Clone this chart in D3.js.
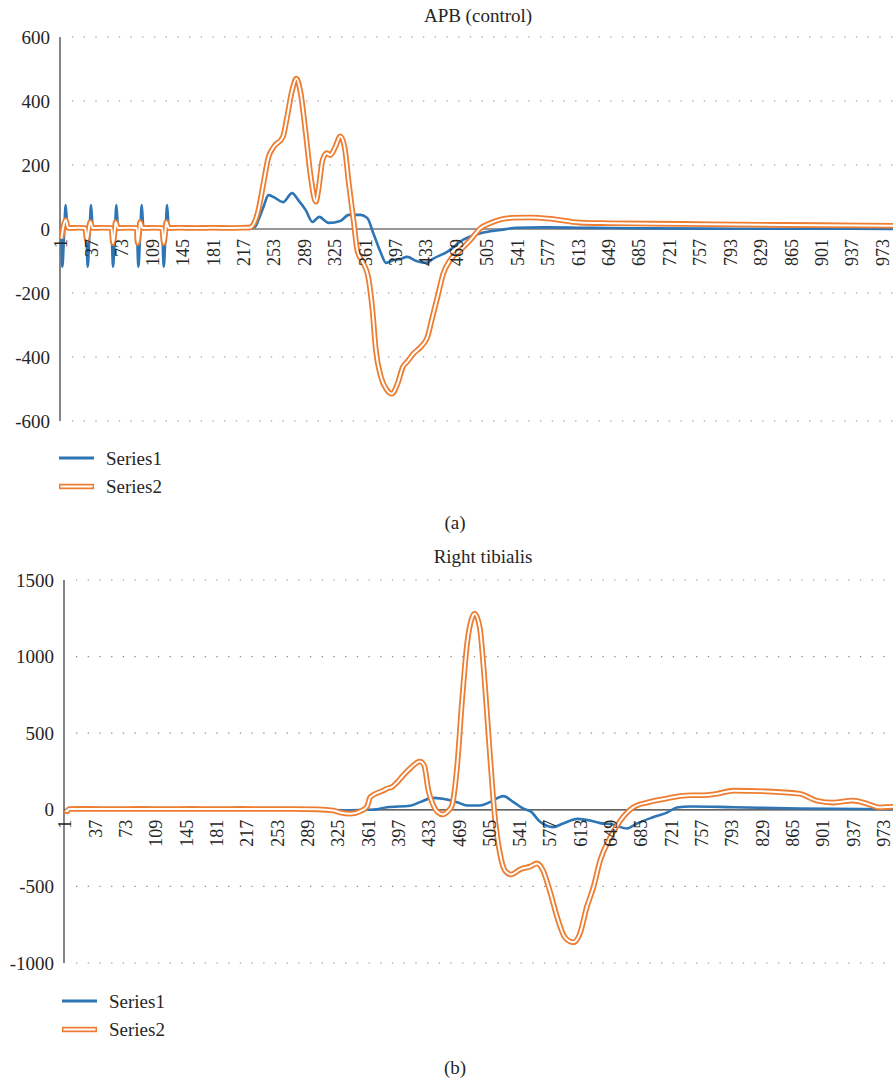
<!DOCTYPE html>
<html>
<head>
<meta charset="utf-8">
<script src="https://cdn.jsdelivr.net/npm/d3@7"></script>
<style>
  html, body { margin: 0; padding: 0; background: #fff; }
  svg { display: block; }
</style>
</head>
<body>
<div id="chart"></div>
<script>
// ---------------- DATA ----------------
const xTickLabels = [1,37,73,109,145,181,217,253,289,325,361,397,433,469,505,541,577,613,649,685,721,757,793,829,865,901,937,973];
const yTicksA = [-600,-400,-200,0,200,400,600];
const yTicksB = [-1000,-500,0,500,1000,1500];
const seriesNames = ["Series1", "Series2"];
const titleA = "APB (control)";
const titleB = "Right tibialis";

// Chart (a) Series1 (blue): [category, value]
const a_s1 = [
  [1,0],[2,-118],[4,-20],[6,75],[8,0],[12,3],[20,2],[28,3],[30,0],
  [32,-118],[34,-20],[36,75],[38,0],[44,4],[52,2],[60,0],
  [62,-118],[64,-20],[66,75],[68,0],[74,3],[82,2],[90,0],
  [92,-118],[94,-20],[96,75],[98,0],[104,4],[112,2],[120,0],
  [122,-118],[124,-20],[126,75],[128,0],[134,3],[145,1],[160,2],[180,1],[200,2],[220,1],
  [226,2],[231,10],[234,28],[240,69],[246,106],[252,100],[263,84],[274,112],[281,91],
  [290,59],[298,22],[306,38],[317,19],[331,25],[341,44],[355,44],[363,34],[370,-13],
  [379,-75],[385,-106],[394,-97],[402,-94],[410,-87],[421,-100],[433,-106],[440,-94],
  [457,-72],[476,-34],[497,-13],[521,-3],[540,4],[570,5],[610,4],[650,3],[700,2],
  [800,1],[900,1],[1000,0]
];
// Chart (a) Series2 (orange)
const a_s2 = [
  [1,-30],[3,5],[6,28],[9,3],[20,4],[29,3],[31,-35],[33,-5],[35,22],[38,3],[50,4],[60,3],
  [62,-44],[64,-5],[65,22],[68,3],[80,4],[90,3],[91,-44],[93,-5],[94,22],[97,3],[110,4],[120,3],
  [122,-44],[124,-5],[125,22],[128,3],[140,4],[160,3],[180,4],[200,3],[215,4],[224,5],
  [234,59],[240,143],[246,225],[252,256],[263,288],[268,350],[274,434],[279,470],[284,425],
  [290,300],[296,163],[302,85],[305,122],[310,216],[315,237],[319,231],[325,256],[331,290],
  [336,256],[341,143],[347,19],[351,-66],[358,-106],[364,-150],[369,-253],[373,-378],
  [379,-462],[386,-503],[392,-515],[399,-481],[405,-431],[410,-415],[418,-388],[426,-369],
  [434,-338],[440,-275],[446,-212],[453,-138],[461,-97],[473,-66],[485,-34],[497,3],
  [509,19],[521,30],[535,35],[556,36],[580,32],[614,20],[650,18],[737,16],[800,14],
  [900,12],[1000,10]
];
// Chart (b) Series1 (blue)
const b_s1 = [
  [1,0],[50,2],[100,0],[150,2],[200,0],[250,1],[300,0],[340,-3],[360,0],[370,3],[383,17],
  [410,26],[422,50],[437,78],[449,72],[466,50],[478,28],[493,28],[505,50],[521,89],[533,50],
  [545,7],[553,-9],[565,-80],[580,-113],[592,-89],[609,-59],[624,-70],[636,-87],[651,-96],
  [668,-122],[679,-91],[698,-50],[716,-17],[727,15],[743,22],[794,17],[873,8],[950,5],[1000,3]
];
// Chart (b) Series2 (orange)
const b_s2 = [
  [1,0],[3,-10],[5,5],[30,6],[60,5],[90,6],[120,5],[150,6],[180,5],[210,6],[240,5],[270,5],
  [300,3],[319,-5],[327,-17],[340,-25],[351,-10],[359,20],[363,83],[378,125],[383,139],
  [389,150],[395,180],[402,224],[410,269],[422,315],[427,289],[432,126],[437,41],[443,-15],
  [449,-30],[455,-10],[460,28],[466,277],[472,714],[478,1086],[484,1257],[487,1280],
  [493,1190],[499,824],[505,367],[511,-50],[517,-286],[523,-397],[530,-422],[541,-389],
  [553,-370],[561,-350],[568,-395],[576,-526],[585,-702],[594,-832],[604,-865],[612,-807],
  [620,-637],[628,-506],[636,-330],[648,-180],[660,-70],[675,15],[692,48],[715,74],[743,95],
  [755,95],[775,105],[794,125],[834,120],[873,105],[893,60],[913,47],[936,60],[953,40],
  [968,15],[984,20],[1000,20]
];

// ---------------- DRAW ----------------
const W = 893, H = 1081;
const BLUE = "#2E75B6", ORANGE = "#ED7D31";
const FONT = "'Liberation Serif', 'Times New Roman', 'DejaVu Serif', serif";
const svg = d3.select("#chart").append("svg").attr("width", W).attr("height", H)
  .attr("font-family", FONT);

function txt(sel) { return sel.attr("font-family", FONT).attr("fill", "#262626"); }

function drawChart(cfg) {
  const g = svg.append("g");
  const x = d3.scaleLinear().domain([1, 1000]).range(cfg.xRange);
  const y = d3.scaleLinear().domain(cfg.yDomain).range(cfg.yRange);
  const axisX = cfg.xRange[0] - 1.5;

  // gridlines
  g.selectAll(".grid").data(cfg.yTicks.filter(d => d !== 0)).enter().append("line")
    .attr("x1", axisX + 12).attr("x2", W)
    .attr("y1", d => y(d)).attr("y2", d => y(d))
    .attr("stroke", "#8a8a8a").attr("stroke-width", 1.2)
    .attr("stroke-dasharray", "1.3 10.4");

  // y axis line
  g.append("line").attr("x1", axisX).attr("x2", axisX)
    .attr("y1", y(cfg.yDomain[1])).attr("y2", y(cfg.yDomain[0]))
    .attr("stroke", "#333").attr("stroke-width", 1.2);

  // y labels
  txt(g.selectAll(".yl").data(cfg.yTicks).enter().append("text"))
    .attr("x", cfg.yLabelX).attr("y", d => y(d)).attr("dy", "0.35em")
    .attr("text-anchor", "end").attr("font-size", 19)
    .text(d => d);

  // category axis (zero line)
  g.append("line").attr("x1", axisX).attr("x2", W)
    .attr("y1", y(0)).attr("y2", y(0))
    .attr("stroke", "#333").attr("stroke-width", 1.2);

  // lines
  const line = d3.line().x(d => x(d[0])).y(d => y(d[1])).curve(d3.curveMonotoneX);
  g.append("path").datum(cfg.s1).attr("d", line)
    .attr("fill", "none").attr("stroke", BLUE).attr("stroke-width", 2.6).attr("stroke-linejoin", "round");
  g.append("path").datum(cfg.s2).attr("d", line)
    .attr("fill", "none").attr("stroke", ORANGE).attr("stroke-width", 5.6).attr("stroke-linejoin", "round");
  g.append("path").datum(cfg.s2).attr("d", line)
    .attr("fill", "none").attr("stroke", "#fff").attr("stroke-width", 2).attr("stroke-linejoin", "round");

  // x labels (rotated)
  txt(g.selectAll(".xl").data(xTickLabels).enter().append("text"))
    .attr("transform", d => `translate(${x(d)},${y(0) + 10}) rotate(-90)`)
    .attr("dy", "0.33em").attr("text-anchor", "end").attr("font-size", 18)
    .text(d => d);

  // title
  txt(g.append("text")).attr("x", cfg.titleX).attr("y", cfg.titleY)
    .attr("text-anchor", "middle").attr("font-size", 19).text(cfg.title);

  // legend
  const lg = g.append("g");
  const lx1 = cfg.legX, lx2 = cfg.legX + 35;
  lg.append("line").attr("x1", lx1).attr("x2", lx2).attr("y1", cfg.legY).attr("y2", cfg.legY)
    .attr("stroke", BLUE).attr("stroke-width", 2.8);
  txt(lg.append("text")).attr("x", lx2 + 12).attr("y", cfg.legY).attr("dy", "0.35em")
    .attr("font-size", 19).text(seriesNames[0]);
  const ly2 = cfg.legY + 28.5;
  lg.append("line").attr("x1", lx1).attr("x2", lx2).attr("y1", ly2).attr("y2", ly2)
    .attr("stroke", ORANGE).attr("stroke-width", 5.6);
  lg.append("line").attr("x1", lx1 + 1.5).attr("x2", lx2 - 1.5).attr("y1", ly2).attr("y2", ly2)
    .attr("stroke", "#fff").attr("stroke-width", 2);
  txt(lg.append("text")).attr("x", lx2 + 12).attr("y", ly2).attr("dy", "0.35em")
    .attr("font-size", 19).text(seriesNames[1]);

  // caption
  txt(g.append("text")).attr("x", cfg.capX).attr("y", cfg.capY)
    .attr("text-anchor", "middle").attr("font-size", 19).text(cfg.caption);
}

drawChart({
  title: titleA, titleX: 478, titleY: 22,
  xRange: [61.5, 61.5 + 999 * 0.845],
  yDomain: [-600, 600], yRange: [421, 37], yTicks: yTicksA, yLabelX: 50,
  s1: a_s1, s2: a_s2,
  legX: 59, legY: 458,
  caption: "(a)", capX: 455, capY: 529
});

drawChart({
  title: titleB, titleX: 483, titleY: 563,
  xRange: [65.5, 65.5 + 999 * 0.842],
  yDomain: [-1000, 1500], yRange: [963, 580], yTicks: yTicksB, yLabelX: 54,
  s1: b_s1, s2: b_s2,
  legX: 62, legY: 1001,
  caption: "(b)", capX: 455, capY: 1074
});
</script>
</body>
</html>
